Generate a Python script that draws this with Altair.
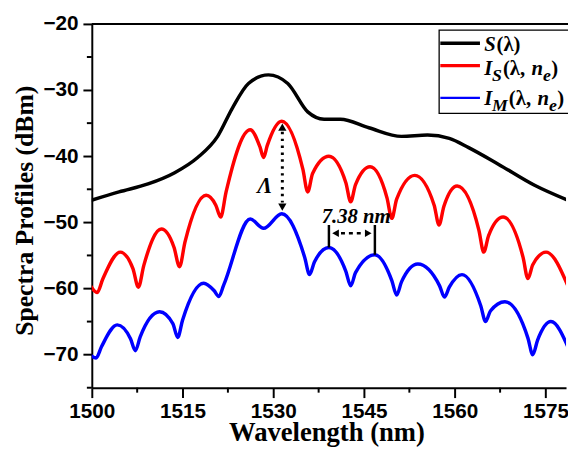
import altair as alt
import pandas as pd

# ---------------- data ----------------
s_nm = [1499.8, 1504.5, 1509.3, 1513.7, 1517.5, 1520.8, 1523.2, 1525.9, 1529.2, 1532.4,
        1535.7, 1538.4, 1541.1, 1545.8, 1551.2, 1555.5, 1559.1, 1562.3, 1567.2, 1573.2, 1578.8]
s_db = [-46.7, -45.4, -44.2, -42.5, -40.2, -37.0, -32.8, -29.0, -27.7, -29.0,
        -33.3, -34.4, -34.4, -35.7, -37.0, -36.8, -37.3, -38.7, -41.2, -44.4, -46.7]

is_nm = [1499.8, 1500.9, 1501.8, 1504.7, 1506.8, 1507.7, 1508.6, 1511.5, 1513.6, 1514.5,
         1515.4, 1518.9, 1520.5, 1521.3, 1522.2, 1526.2, 1527.8, 1528.4, 1529.0, 1531.4,
         1534.9, 1535.7, 1536.5, 1539.2, 1542.0, 1542.8, 1543.6, 1546.0, 1548.8, 1549.6,
         1550.4, 1553.4, 1556.6, 1557.4, 1558.2, 1560.4, 1564.0, 1564.8, 1565.6, 1568.0,
         1571.3, 1572.1, 1572.9, 1575.1, 1578.8]
is_db = [-59.6, -60.6, -58.6, -54.5, -57.0, -59.8, -56.5, -51.0, -53.8, -56.7,
         -53.0, -45.9, -47.4, -49.2, -45.4, -36.0, -38.6, -40.2, -38.4, -34.7,
         -42.0, -45.4, -42.6, -40.0, -44.0, -46.9, -44.3, -41.6, -46.3, -49.4,
         -46.5, -42.9, -47.4, -50.4, -47.6, -44.5, -51.2, -54.5, -52.0, -49.2,
         -55.3, -58.5, -56.4, -54.5, -59.8]

im_nm = [1499.8, 1500.7, 1501.6, 1504.2, 1506.4, 1507.2, 1508.0, 1511.2, 1513.4, 1514.2,
         1515.0, 1518.5, 1520.2, 1521.0, 1521.8, 1526.2, 1528.4, 1531.4, 1535.2, 1536.0,
         1536.8, 1539.2, 1542.0, 1542.8, 1543.6, 1546.8, 1549.6, 1550.4, 1551.2, 1553.9,
         1557.5, 1558.3, 1559.1, 1561.2, 1564.3, 1565.1, 1565.9, 1568.3, 1572.1, 1572.9,
         1573.7, 1575.9, 1578.8]
im_db = [-70.1, -70.5, -68.8, -65.5, -67.6, -69.4, -67.3, -63.5, -65.3, -67.4,
         -64.8, -59.2, -60.3, -61.2, -59.5, -49.5, -50.9, -48.7, -55.3, -57.9,
         -56.0, -53.8, -57.4, -59.6, -57.6, -54.9, -58.8, -61.0, -59.0, -56.3,
         -59.6, -61.3, -59.8, -57.9, -62.6, -65.0, -63.4, -62.0, -67.5, -70.0,
         -67.8, -65.0, -69.0]

series_names = ["S", "IS", "IM"]
series_colors = ["#000000", "#ff0000", "#0000ff"]

x_major = [1500, 1515, 1530, 1545, 1560, 1575]
x_minor = [1507.5, 1522.5, 1537.5, 1552.5, 1567.5]
y_major = [-70, -60, -50, -40, -30, -20]
y_minor = [-75, -65, -55, -45, -35, -25]

# ---------------- layout ----------------
XMIN, XMAX = 1500, 1578.4
YMIN, YMAX = -75, -20
W, H = 481, 369

xs = alt.Scale(domain=[XMIN, XMAX], nice=False, zero=False)
ys = alt.Scale(domain=[YMIN, YMAX], nice=False, zero=False)

rows = []
for name, nm, db in zip(series_names, [s_nm, is_nm, im_nm], [s_db, is_db, im_db]):
    for a, b in zip(nm, db):
        rows.append({"series": name, "wl": a, "p": b})
df = pd.DataFrame(rows)

x_axis = alt.Axis(
    values=x_major, format="d",
    tickSize=10, tickWidth=2, tickColor="black", domainColor="black", domainWidth=2,
    labelFont="Liberation Sans", labelFontWeight="bold", labelFontSize=21, labelColor="black",
    labelPadding=3, labelOverlap=False, labelFlush=False, grid=False,
    title="Wavelength (nm)", titleFont="Liberation Serif", titleFontWeight="bold",
    titleFontSize=27, titleColor="black", titleX=238, titleY=54, titleAlign="center",
    titleBaseline="alphabetic",
)
y_axis = alt.Axis(
    values=y_major, format="d",
    tickSize=9, tickWidth=2, tickColor="black", domainColor="black", domainWidth=2,
    labelFont="Liberation Sans", labelFontWeight="bold", labelFontSize=21, labelColor="black",
    labelPadding=5, labelOverlap=False, labelFlush=False, grid=False,
    title="Spectra Profiles (dBm)", titleFont="Liberation Serif", titleFontWeight="bold",
    titleFontSize=26, titleColor="black", titleX=-68, titleY=189, titleAngle=270,
    titleAlign="center", titleBaseline="middle",
)

lines = alt.Chart(df).mark_line(strokeWidth=3.5, interpolate="monotone", clip=True).encode(
    x=alt.X("wl:Q", scale=xs, axis=x_axis),
    y=alt.Y("p:Q", scale=ys, axis=y_axis),
    color=alt.Color("series:N", scale=alt.Scale(domain=series_names, range=series_colors), legend=None),
    detail="series:N",
)

one = pd.DataFrame({"a": [0]})

# minor ticks
x_minor_ticks = alt.Chart(pd.DataFrame({"v": x_minor})).mark_rule(color="black", strokeWidth=2).encode(
    x=alt.X("v:Q", scale=xs), y=alt.value(H), y2=alt.value(H + 5))
y_minor_ticks = alt.Chart(pd.DataFrame({"v": y_minor})).mark_rule(color="black", strokeWidth=2).encode(
    y=alt.Y("v:Q", scale=ys), x=alt.value(-5), x2=alt.value(0))

# top frame line
top_line = alt.Chart(one).mark_rule(color="black", strokeWidth=2).encode(
    x=alt.value(0), x2=alt.value(W + 4), y=alt.value(0))

# ---- Lambda arrow (dotted, double headed) ----
lam = pd.DataFrame({"x": [1531.5], "y1": [-36.3], "y2": [-47.0]})
lam_rule = alt.Chart(lam).mark_rule(color="black", strokeWidth=3, strokeDash=[2.5, 4.5]).encode(
    x=alt.X("x:Q", scale=xs), y=alt.Y("y1:Q", scale=ys), y2="y2:Q")
lam_up = alt.Chart(pd.DataFrame({"x": [1531.5], "y": [-35.6]})).mark_point(
    shape="triangle-up", filled=True, color="black", size=70, opacity=1).encode(
    x=alt.X("x:Q", scale=xs), y=alt.Y("y:Q", scale=ys))
lam_dn = alt.Chart(pd.DataFrame({"x": [1531.5], "y": [-47.7]})).mark_point(
    shape="triangle-down", filled=True, color="black", size=70, opacity=1).encode(
    x=alt.X("x:Q", scale=xs), y=alt.Y("y:Q", scale=ys))
lam_txt = alt.Chart(pd.DataFrame({"x": [1528.6], "y": [-44.45], "t": ["Λ"]})).mark_text(
    font="Liberation Serif", fontWeight="bold", fontStyle="italic", fontSize=23,
    color="black", baseline="middle", align="center").encode(
    x=alt.X("x:Q", scale=xs), y=alt.Y("y:Q", scale=ys), text="t:N")

# ---- period marker 7.38 nm ----
per_v = pd.DataFrame({"x": [1539.2, 1546.8], "y1": [-50.4, -50.4], "y2": [-53.8, -54.9]})
per_rules = alt.Chart(per_v).mark_rule(color="black", strokeWidth=2.5).encode(
    x=alt.X("x:Q", scale=xs), y=alt.Y("y1:Q", scale=ys), y2="y2:Q")
per_h = pd.DataFrame({"x1": [1541.2], "x2": [1544.8], "y": [-51.64]})
per_dash = alt.Chart(per_h).mark_rule(color="black", strokeWidth=2.5, strokeDash=[4, 4]).encode(
    x=alt.X("x1:Q", scale=xs), x2="x2:Q", y=alt.Y("y:Q", scale=ys))
per_l = alt.Chart(pd.DataFrame({"x": [1540.3], "y": [-51.64]})).mark_point(
    shape="triangle-left", filled=True, color="black", size=60, opacity=1).encode(
    x=alt.X("x:Q", scale=xs), y=alt.Y("y:Q", scale=ys))
per_r = alt.Chart(pd.DataFrame({"x": [1545.7], "y": [-51.64]})).mark_point(
    shape="triangle-right", filled=True, color="black", size=60, opacity=1).encode(
    x=alt.X("x:Q", scale=xs), y=alt.Y("y:Q", scale=ys))
per_txt = alt.Chart(pd.DataFrame({"x": [1543.7], "y": [-50.15], "t": ["7.38 nm"]})).mark_text(
    font="Liberation Serif", fontWeight="bold", fontStyle="italic", fontSize=21,
    color="black", baseline="alphabetic", align="center").encode(
    x=alt.X("x:Q", scale=xs), y=alt.Y("y:Q", scale=ys), text="t:N")

# ---- manual legend ----
legend_layers = []
legend_layers.append(alt.Chart(one).mark_rect(fill="white", stroke="black", strokeWidth=1.3).encode(
    x=alt.value(352.3), x2=alt.value(W + 30), y=alt.value(6.3), y2=alt.value(90.7)))
for yy, col, sw in [(19.7, "#000000", 3.5), (42.3, "#ff0000", 3.5), (75.0, "#0000ff", 2.5)]:
    legend_layers.append(alt.Chart(one).mark_rule(color=col, strokeWidth=sw).encode(
        x=alt.value(353.5), x2=alt.value(393.7), y=alt.value(yy)))


def piece(text, x, y, size, italic):
    return alt.Chart(one).mark_text(
        text=text, align="left", baseline="alphabetic", font="Liberation Serif",
        fontWeight="bold", fontStyle="italic" if italic else "normal", fontSize=size,
        color="black").encode(x=alt.value(x), y=alt.value(y))


M, SB = 21, 18
# row 1: S(λ)
legend_layers += [piece("S", 398, 27, M, True), piece("(λ)", 410.5, 27, M, False)]
# row 2: I_S(λ, n_e)
b2, s2 = 52.3, 58.0
legend_layers += [piece("I", 398, b2, M, True), piece("S", 406, s2, SB, True),
                  piece("(λ,", 417, b2, M, False), piece("n", 446, b2, M, True),
                  piece("e", 457.7, s2, SB, True), piece(")", 466, b2, M, False)]
# row 3: I_M(λ, n_e)
b3, s3 = 82.3, 88.0
legend_layers += [piece("I", 398, b3, M, True), piece("M", 406, s3, SB, True),
                  piece("(λ,", 423, b3, M, False), piece("n", 452, b3, M, True),
                  piece("e", 463.7, s3, SB, True), piece(")", 472, b3, M, False)]

chart = alt.layer(
    lines, x_minor_ticks, y_minor_ticks, top_line, lam_rule, lam_up, lam_dn, lam_txt,
    per_rules, per_dash, per_l, per_r, per_txt, *legend_layers
).properties(
    width=W, height=H,
    autosize=alt.AutoSizeParams(type="none"),
    padding={"left": 85, "top": 13, "right": 2, "bottom": 59},
).configure_view(stroke=None)

chart.save("out.html", embed_options={"renderer": "svg", "actions": False})
